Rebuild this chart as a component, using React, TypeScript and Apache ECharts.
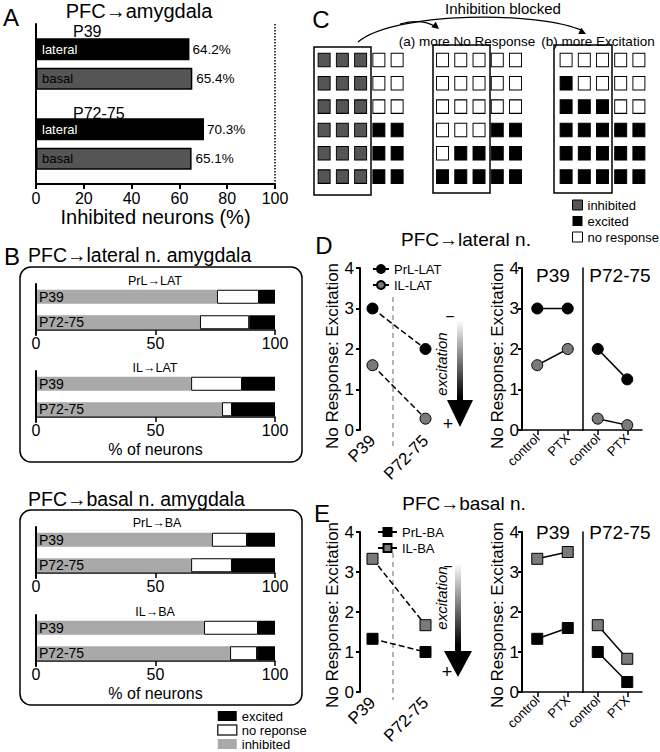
import React, { useEffect, useRef } from "react";
import * as echarts from "echarts";

const FF = '"Liberation Sans", Arial, sans-serif';

// ---- Panel A ----
const aGroups = ["P39", "P72-75"];
const aLateral = [64.2, 70.3];
const aBasal = [65.4, 65.1];

// ---- Panel B ----
const bAges = ["P39", "P72-75"];
const prlLatInhibited = [75.7, 68.6];
const prlLatNoResp = [17.6, 20.6];
const prlLatExcited = [6.7, 10.8];
const ilLatInhibited = [64.9, 77.8];
const ilLatNoResp = [21.3, 4.2];
const ilLatExcited = [13.8, 18.0];
const prlBaInhibited = [73.6, 64.9];
const prlBaNoResp = [14.7, 17.1];
const prlBaExcited = [11.7, 18.0];
const ilBaInhibited = [70.3, 81.2];
const ilBaNoResp = [22.6, 11.3];
const ilBaExcited = [7.1, 7.5];

// ---- Panel C (I = inhibited, E = excited, N = no response) ----
const cellsBaseline = ["IIINN", "IIINN", "IIINN", "IIIEE", "IIIEE", "IIIEE"];
const cellsMoreNoResponse = ["NNNNN", "NNNNN", "NNNNN", "NNNEE", "NEEEE", "EEEEE"];
const cellsMoreExcitation = ["NNNNN", "ENNNN", "EEENN", "EEEEE", "EEEEE", "EEEEE"];

// ---- Panels D / E ----
const dAges = ["P39", "P72-75"];
const treatments = ["control", "PTX"];
const prlLatAge = [3.0, 2.0];
const ilLatAge = [1.6, 0.28];
const prlLatP39 = [3.0, 3.0];
const ilLatP39 = [1.6, 2.0];
const prlLatP72 = [2.0, 1.25];
const ilLatP72 = [0.28, 0.12];
const prlBaAge = [1.33, 1.0];
const ilBaAge = [3.33, 1.67];
const prlBaP39 = [1.33, 1.6];
const ilBaP39 = [3.33, 3.5];
const prlBaP72 = [1.0, 0.25];
const ilBaP72 = [1.67, 0.83];

function buildOption() {
  const grid: any[] = [];
  const xAxis: any[] = [];
  const yAxis: any[] = [];
  const series: any[] = [];
  const black = "#000";

  // ---------- Panel A ----------
  grid.push({ left: 36, top: 24, width: 239, height: 160 });
  xAxis.push({
    gridIndex: 0, type: "value", min: 0, max: 100, interval: 20,
    axisLine: { show: true, lineStyle: { color: black, width: 2 } },
    axisTick: { show: true, length: 5, lineStyle: { color: black, width: 2 } },
    splitLine: { show: false },
    axisLabel: { fontSize: 16, color: black, margin: 6, fontFamily: FF },
    name: "Inhibited neurons (%)", nameLocation: "middle", nameGap: 21,
    nameTextStyle: { fontSize: 20, color: black, fontFamily: FF },
  });
  yAxis.push({
    gridIndex: 0, type: "category", data: aGroups, inverse: true,
    axisLine: { show: true, lineStyle: { color: black, width: 2 } },
    axisTick: { show: false }, axisLabel: { show: false },
  });
  const aBarCommon = { type: "bar", xAxisIndex: 0, yAxisIndex: 0, barWidth: 22, barGap: "34%" };
  series.push({
    ...aBarCommon, name: "lateral", stack: "lat", data: aLateral,
    itemStyle: { color: black },
    label: { show: true, position: "insideLeft", distance: 6, formatter: "lateral", color: "#fff", fontSize: 13, fontFamily: FF },
    markLine: {
      silent: true, symbol: "none", label: { show: false },
      lineStyle: { type: "dotted", color: black, width: 1.5 },
      data: [{ xAxis: 100 }],
    },
  });
  series.push({
    ...aBarCommon, name: "lateral value", stack: "lat", data: aLateral.map(() => 0),
    itemStyle: { color: black },
    label: { show: true, position: "right", distance: 3, formatter: (p: any) => aLateral[p.dataIndex] + "%", color: black, fontSize: 13.5, fontFamily: FF },
  });
  series.push({
    ...aBarCommon, name: "basal", stack: "bas", data: aBasal,
    itemStyle: { color: "#555", borderColor: black, borderWidth: 1.5 },
    label: { show: true, position: "insideLeft", distance: 6, formatter: "basal", color: black, fontSize: 13, fontFamily: FF },
  });
  series.push({
    ...aBarCommon, name: "basal value", stack: "bas", data: aBasal.map(() => 0),
    itemStyle: { color: black },
    label: { show: true, position: "right", distance: 4, formatter: (p: any) => aBasal[p.dataIndex] + "%", color: black, fontSize: 13.5, fontFamily: FF },
  });

  // ---------- Panel B ----------
  const bGrid = (top: number, inh: number[], nr: number[], ex: number[], showName: boolean) => {
    const gi = grid.length;
    grid.push({ left: 36, top, width: 239, height: 51 });
    xAxis.push({
      gridIndex: gi, type: "value", min: 0, max: 100, interval: 50, offset: -5,
      axisLine: { show: true, lineStyle: { color: black, width: 1.5 } },
      axisTick: { show: true, length: 5, lineStyle: { color: black, width: 1.5 } },
      splitLine: { show: false },
      axisLabel: { fontSize: 16, color: black, margin: 5, fontFamily: FF },
      name: showName ? "% of neurons" : "", nameLocation: "middle", nameGap: 24,
      nameTextStyle: { fontSize: 16, color: black, fontFamily: FF },
    });
    yAxis.push({
      gridIndex: gi, type: "category", data: bAges, inverse: true,
      axisLine: { show: true, lineStyle: { color: black, width: 2 } },
      axisTick: { show: false },
      axisLabel: { inside: true, fontSize: 14, color: black, margin: 3, fontFamily: FF },
      z: 10,
    });
    const common = { type: "bar", xAxisIndex: gi, yAxisIndex: gi, stack: "b" + gi, barWidth: 14 };
    series.push({ ...common, name: "inhibited", data: inh, itemStyle: { color: "#a9a9a9" } });
    series.push({ ...common, name: "no reponse", data: nr, itemStyle: { color: "#fff", borderColor: black, borderWidth: 1 } });
    series.push({ ...common, name: "excited", data: ex, itemStyle: { color: black } });
  };
  bGrid(284, prlLatInhibited, prlLatNoResp, prlLatExcited, false);
  bGrid(371, ilLatInhibited, ilLatNoResp, ilLatExcited, true);
  bGrid(527, prlBaInhibited, prlBaNoResp, prlBaExcited, false);
  bGrid(615, ilBaInhibited, ilBaNoResp, ilBaExcited, true);

  // ---------- Panel C ----------
  const stateInfo: any = {
    I: { name: "inhibited", style: { color: "#555", borderColor: black, borderWidth: 1, opacity: 1 } },
    E: { name: "excited", style: { color: black, borderColor: black, borderWidth: 1, opacity: 1 } },
    N: { name: "no response", style: { color: "#fff", borderColor: black, borderWidth: 1, opacity: 1 } },
  };
  const cGrid = (left: number, width: number, cells: string[]) => {
    const gi = grid.length;
    grid.push({ left, top: 48.3, width, height: 140 });
    xAxis.push({ gridIndex: gi, type: "category", data: [0, 1, 2, 3, 4], show: false });
    yAxis.push({ gridIndex: gi, type: "category", data: [0, 1, 2, 3, 4, 5], inverse: true, show: false });
    ["I", "E", "N"].forEach((k) => {
      const data: any[] = [];
      cells.forEach((row, r) => row.split("").forEach((s, c) => { if (s === k) data.push([c, r]); }));
      series.push({
        type: "scatter", name: stateInfo[k].name, xAxisIndex: gi, yAxisIndex: gi,
        symbol: "rect", symbolSize: [12, 13.5], data, itemStyle: stateInfo[k].style,
      });
    });
  };
  cGrid(315, 91.25, cellsBaseline);
  cGrid(433.4, 91.25, cellsMoreNoResponse);
  cGrid(557, 91, cellsMoreExcitation);

  // ---------- Panels D / E ----------
  const lineSeries = (gi: number, name: string, data: number[], sym: string, gray: boolean, dashed: boolean) => ({
    type: "line", name, xAxisIndex: gi, yAxisIndex: gi, data, clip: false,
    symbol: sym, symbolSize: 11,
    lineStyle: { color: black, width: 1.5, type: dashed ? "dashed" : "solid" },
    itemStyle: gray ? { color: "#7a7a7a", borderColor: black, borderWidth: 1 } : { color: black, borderColor: black, borderWidth: 1 },
  });
  const yVal = (gi: number, opts: any) => ({
    gridIndex: gi, type: "value", min: 0, max: 4, interval: 1,
    axisLine: { show: true, lineStyle: { color: black, width: 2 } },
    axisTick: { show: true, length: 4, lineStyle: { color: black, width: 2 } },
    splitLine: { show: false },
    axisLabel: { fontSize: 17, color: black, margin: 6, fontFamily: FF },
    nameLocation: "middle",
    ...opts,
  });
  const panelDE = (top: number, height: number, names: string[], sym: string, shift: number,
    age: number[][], p39: number[][], p72: number[][]) => {
    const nameStyle = { fontSize: 17, color: black, fontFamily: FF, padding: [0, shift, 0, 0] };
    // left: age comparison
    let gi = grid.length;
    grid.push({ left: 346, top, width: 106, height });
    xAxis.push({
      gridIndex: gi, type: "category", data: dAges,
      axisLine: { show: false }, axisTick: { show: false },
      axisLabel: { rotate: 45, fontSize: 17, color: black, margin: 8, fontFamily: FF },
    });
    yAxis.push(yVal(gi, { offset: -14, name: "No Response: Excitation", nameGap: 14, nameTextStyle: nameStyle }));
    series.push(lineSeries(gi, names[0], age[0], sym, false, true));
    series.push(lineSeries(gi, names[1], age[1], sym, true, true));
    // right: P39 control/PTX
    gi = grid.length;
    grid.push({ left: 522, top, width: 61, height });
    const xCat = (g: number) => ({
      gridIndex: g, type: "category", data: treatments,
      axisLine: { show: true, lineStyle: { color: black, width: 1.5 } },
      axisTick: { show: true, alignWithLabel: true, length: 5, lineStyle: { color: black, width: 1.5 } },
      axisLabel: { rotate: 45, fontSize: 13, color: black, margin: 6, fontFamily: FF },
    });
    xAxis.push(xCat(gi));
    yAxis.push(yVal(gi, {
      name: "No Response: Excitation", nameGap: 12, nameTextStyle: nameStyle,
      axisLabel: { fontSize: 17, color: black, margin: 3, fontFamily: FF },
    }));
    series.push(lineSeries(gi, names[0], p39[0], sym, false, false));
    series.push(lineSeries(gi, names[1], p39[1], sym, true, false));
    // right: P72-75 control/PTX
    gi = grid.length;
    grid.push({ left: 583, top, width: 59, height });
    xAxis.push(xCat(gi));
    yAxis.push(yVal(gi, { axisLine: { show: true, lineStyle: { color: black, width: 1.5 } }, axisTick: { show: false }, axisLabel: { show: false } }));
    series.push(lineSeries(gi, names[0], p72[0], sym, false, false));
    series.push(lineSeries(gi, names[1], p72[1], sym, true, false));
  };
  panelDE(268, 162, ["PrL-LAT", "IL-LAT"], "circle", 14, [prlLatAge, ilLatAge], [prlLatP39, ilLatP39], [prlLatP72, ilLatP72]);
  panelDE(532, 160, ["PrL-BA", "IL-BA"], "rect", 6, [prlBaAge, ilBaAge], [prlBaP39, ilBaP39], [prlBaP72, ilBaP72]);

  // ---------- Legends ----------
  const legendText = { fontSize: 13, color: black, fontFamily: FF, lineHeight: 14 };
  const legend: any[] = [
    {
      left: 217, top: 709, orient: "vertical", padding: 0, itemWidth: 19, itemHeight: 10, itemGap: 0, icon: "rect",
      selectedMode: false, textStyle: legendText,
      data: [
        { name: "excited", itemStyle: { color: black, borderWidth: 0, opacity: 1 } },
        { name: "no reponse", itemStyle: { color: "#fff", borderColor: "#333", borderWidth: 1.5, opacity: 1 } },
        { name: "inhibited", itemStyle: { color: "#a9a9a9", borderWidth: 0, opacity: 1 } },
      ],
    },
    {
      left: 572, top: 198, orient: "vertical", padding: 0, itemWidth: 10, itemHeight: 10, itemGap: 2, icon: "rect",
      selectedMode: false, textStyle: legendText,
      data: [
        { name: "inhibited", itemStyle: { color: "#555", borderColor: black, borderWidth: 1, opacity: 1 } },
        { name: "excited", itemStyle: { color: black, borderWidth: 0, opacity: 1 } },
        { name: "no response", itemStyle: { color: "#fff", borderColor: black, borderWidth: 1, opacity: 1 } },
      ],
    },
    {
      left: 372, top: 262, orient: "vertical", padding: 0, itemWidth: 16, itemHeight: 10, itemGap: 2,
      selectedMode: false, textStyle: legendText, lineStyle: { type: "solid" },
      data: ["PrL-LAT", "IL-LAT"],
    },
    {
      left: 377, top: 525, orient: "vertical", padding: 0, itemWidth: 19, itemHeight: 10, itemGap: 2,
      selectedMode: false, textStyle: legendText, lineStyle: { type: "solid" },
      data: ["PrL-BA", "IL-BA"],
    },
  ];

  // ---------- Graphic annotations ----------
  const txt = (text: string, x: number, y: number, size: number, o: any = {}) => ({
    type: "text", x, y, rotation: o.rotation || 0, silent: true,
    style: {
      text, font: `${o.italic ? "italic " : ""}${size}px ${FF}`, fill: black,
      textAlign: o.align || "center", textVerticalAlign: "middle",
    },
  });
  const box = (x: number, y: number, w: number, h: number, r: number) => ({
    type: "rect", silent: true, shape: { x, y, width: w, height: h, r },
    style: { fill: "none", stroke: black, lineWidth: 1.5 },
  });
  const arrowHead = (tx: number, ty: number, dx: number, dy: number, len: number, half: number) => {
    const n = Math.hypot(dx, dy);
    const ux = dx / n, uy = dy / n;
    const bx = tx - ux * len, by = ty - uy * len;
    return {
      type: "polygon", silent: true,
      shape: { points: [[tx, ty], [bx - uy * half, by + ux * half], [bx + uy * half, by - ux * half]] },
      style: { fill: black },
    };
  };
  const bigArrow = (cx: number, top: number, headTop: number, tip: number, headHalf: number) => ({
    type: "polygon", silent: true,
    shape: {
      points: [
        [cx - 3, top], [cx + 3, top], [cx + 3, headTop], [cx + headHalf, headTop],
        [cx, tip], [cx - headHalf, headTop], [cx - 3, headTop],
      ],
    },
    style: {
      fill: new echarts.graphic.LinearGradient(0, 0, 0, 1, [
        { offset: 0, color: "#ffffff" },
        { offset: 0.72, color: "#000000" },
        { offset: 1, color: "#000000" },
      ]),
    },
  });

  const graphic: any[] = [
    // Panel letters
    txt("A", 11, 17, 24), txt("B", 12, 256, 24), txt("C", 321, 19, 24), txt("D", 324, 245, 24), txt("E", 322, 513, 24),
    // Panel A
    txt("PFC→amygdala", 139, 11, 20),
    txt(aGroups[0], 73, 31, 16, { align: "left" }),
    txt(aGroups[1], 73, 113, 16, { align: "left" }),
    // Panel B
    txt("PFC→lateral n. amygdala", 28, 255, 19.5, { align: "left" }),
    txt("PFC→basal n. amygdala", 28, 499, 19.5, { align: "left" }),
    box(20, 267, 282, 195, 11), box(20, 510, 282, 195, 11),
    txt("PrL→LAT", 155, 281, 12.5), txt("IL→LAT", 155, 368, 12.5),
    txt("PrL→BA", 157, 523, 12.5), txt("IL→BA", 155, 612, 12.5),
    // Panel C
    box(314, 47, 57, 148, 0), box(433, 45, 57, 148, 0), box(554, 45, 58, 148, 0),
    txt("Inhibition blocked", 503, 8, 15),
    txt("(a) more No Response", 467, 41, 13.5),
    txt("(b) more Excitation", 598, 41, 13.5),
    { type: "bezierCurve", silent: true, shape: { x1: 358, y1: 42, x2: 583, y2: 31, cpx1: 395, cpy1: 11, cpx2: 540, cpy2: 11 }, style: { stroke: black, lineWidth: 1.2, fill: "none" } },
    { type: "bezierCurve", silent: true, shape: { x1: 400, y1: 24, x2: 436, y2: 27, cpx1: 422, cpy1: 18 }, style: { stroke: black, lineWidth: 1.2, fill: "none" } },
    arrowHead(586, 34, 44, 22, 7, 3.5),
    arrowHead(439, 29, 11, 9, 7, 3.5),
    // Panel D
    txt("PFC→lateral n.", 466, 239, 19),
    txt("P39", 553, 275, 19), txt("P72-75", 620, 275, 19),
    { type: "line", silent: true, shape: { x1: 393, y1: 297, x2: 393, y2: 450 }, style: { stroke: "#999", lineWidth: 1.5, lineDash: [5, 4] } },
    bigArrow(460, 320, 400, 427, 13),
    txt("−", 450, 316, 16), txt("+", 448, 424, 18),
    txt("excitation", 441, 364, 15, { italic: true, rotation: Math.PI / 2 }),
    // Panel E
    txt("PFC→basal n.", 464, 503, 19),
    txt("P39", 553, 532, 19), txt("P72-75", 620, 532, 19),
    { type: "line", silent: true, shape: { x1: 393, y1: 553, x2: 393, y2: 700 }, style: { stroke: "#999", lineWidth: 1.5, lineDash: [5, 4] } },
    bigArrow(458, 563, 651, 677, 14),
    txt("−", 448, 566, 16), txt("+", 447, 672, 18),
    txt("excitation", 441, 598, 15, { italic: true, rotation: Math.PI / 2 }),
  ];

  return {
    animation: false,
    backgroundColor: "#fff",
    textStyle: { fontFamily: FF },
    grid, xAxis, yAxis, series, legend, graphic,
  };
}

export default function App() {
  const ref = useRef<HTMLDivElement>(null);
  useEffect(() => {
    if (!ref.current) return;
    const chart = echarts.init(ref.current, null, { renderer: "svg" });
    chart.setOption(buildOption() as any);
    return () => chart.dispose();
  }, []);
  return <div ref={ref} style={{ position: "absolute", left: 0, top: 0, width: 660, height: 752 }} />;
}
